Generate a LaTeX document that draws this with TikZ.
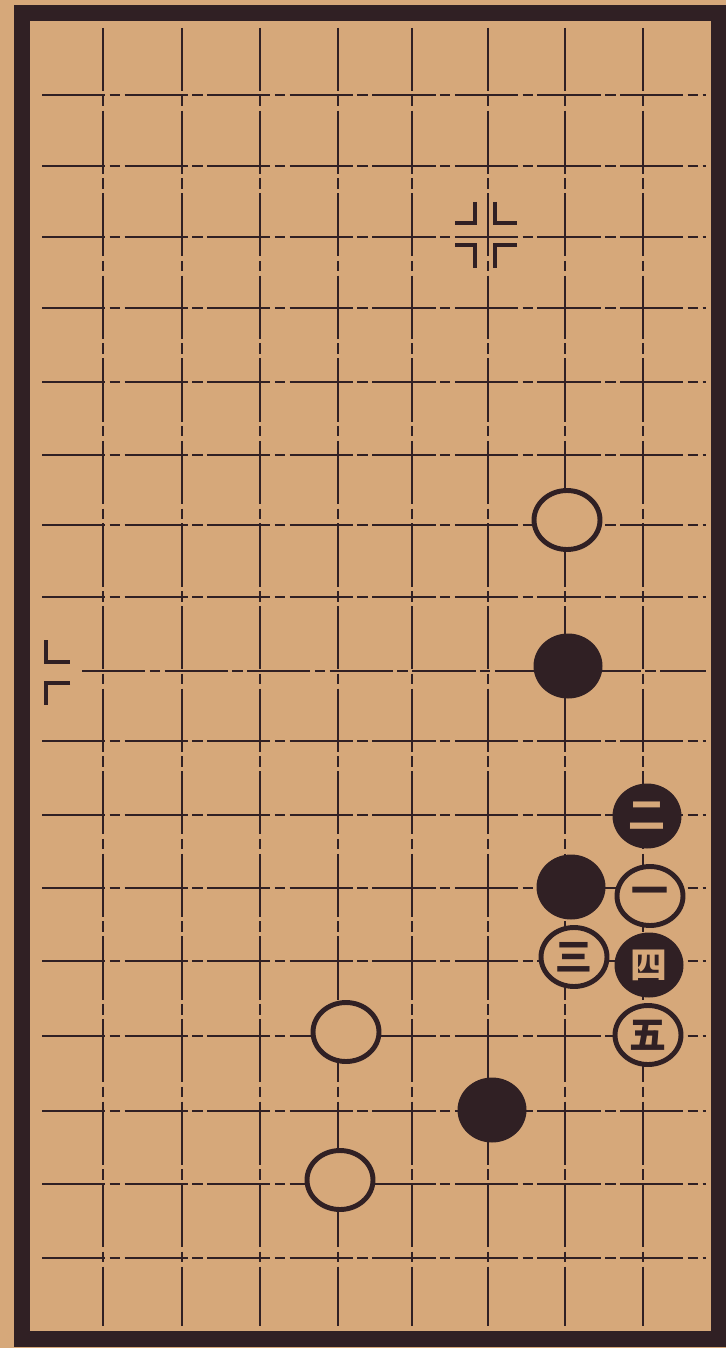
\documentclass[tikz,border=0pt]{standalone}
\usepackage{fontspec}
\usetikzlibrary{shapes.geometric}
\newfontfamily\cjk{Noto Sans CJK SC}
\definecolor{paper}{RGB}{214,168,122}
\definecolor{ink}{RGB}{48,32,36}

\begin{document}
\begin{tikzpicture}[x=0.02cm,y=-0.02cm,
  gridline/.style={ink,line width=1.6pt,dash pattern=on 36pt off 2.5pt on 6pt off 2.5pt},
  corner/.style={ink,line width=2.2pt},
  wst/.style={ellipse,draw=ink,fill=paper,line width=2.8pt,minimum width=1.32cm,
    minimum height=1.18cm,inner sep=0pt,text=ink,font=\cjk\bfseries\fontsize{21}{21}\selectfont},
  bst/.style={ellipse,fill=ink,minimum width=1.38cm,minimum height=1.30cm,
    inner sep=0pt,text=paper,font=\cjk\bfseries\fontsize{21}{21}\selectfont}]
  \fill[paper] (0,0) rectangle (726,1348);
  \useasboundingbox (0,0) rectangle (726,1348);
  % board lines
  \foreach \x in {103,182,260,338,412,488,565,643}
    \draw[gridline] (\x,28) -- (\x,1326);
  \foreach \y in {95,166,237,308,382,455,525,597,741,815,888,961,1036,1111,1184,1258}
    \draw[gridline] (42,\y) -- (706,\y);
  \draw[gridline] (82,671) -- (706,671);
  % frame
  \draw[ink,line width=9pt] (22,13) rectangle (719,1339);
  % star point
  \draw[corner] (475,202) -- (475,223) -- (455,223);
  \draw[corner] (495,202) -- (495,223) -- (517,223);
  \draw[corner] (455,245) -- (475,245) -- (475,268);
  \draw[corner] (517,245) -- (495,245) -- (495,268);
  % edge mark
  \draw[corner] (46,640) -- (46,662) -- (70,662);
  \draw[corner] (70,683) -- (46,683) -- (46,705);
  % stones
  \node[wst] (w0) at (567,520) {};
  \node[bst] (b0) at (568,666) {};
  \node[bst] (b2) at (647,816) {二};
  \node[wst] (w1) at (650,896) {一};
  \node[bst] (b1) at (571,887) {};
  \node[wst] (w3) at (574,957) {三};
  \node[bst] (b4) at (649,965) {四};
  \node[wst] (w5) at (648,1035) {五};
  \node[wst] (wa) at (346,1032) {};
  \node[bst] (ba) at (492,1110) {};
  \node[wst] (wb) at (340,1180) {};
\end{tikzpicture}
\end{document}
